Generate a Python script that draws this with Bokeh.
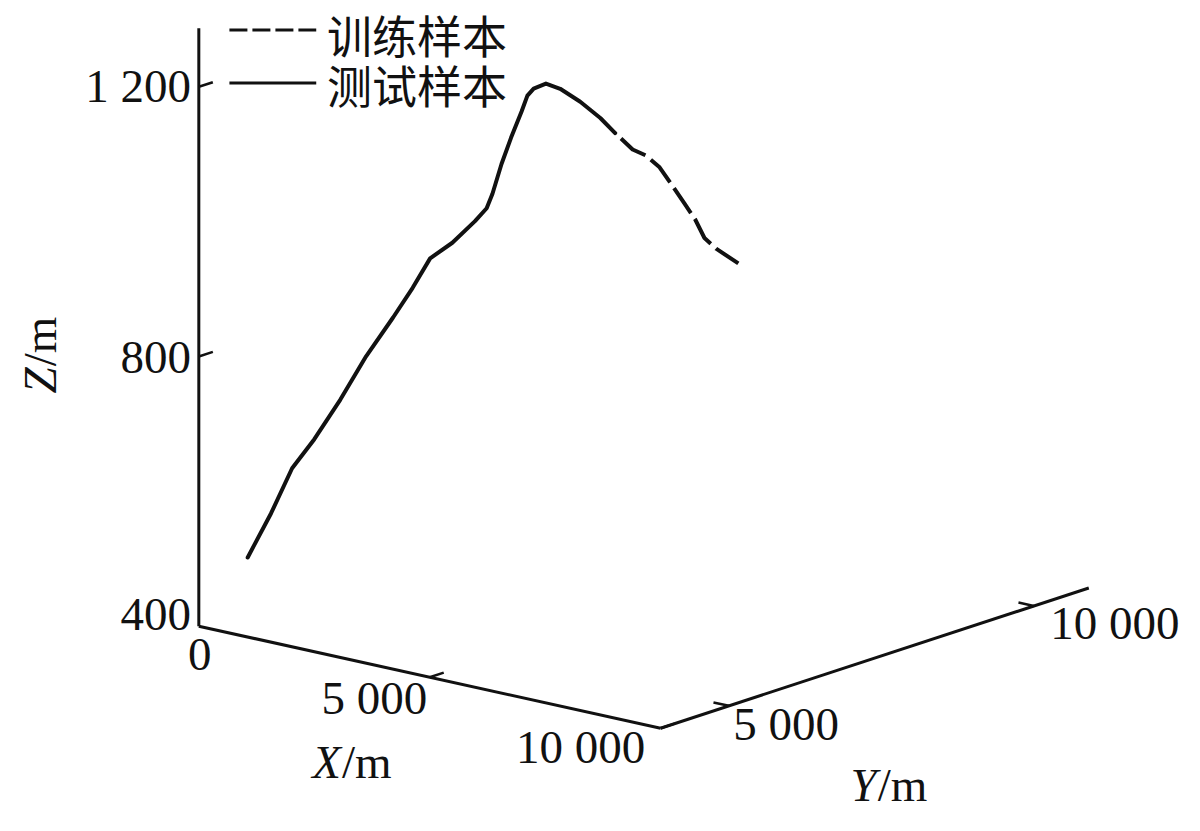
import math
from bokeh.plotting import figure
from bokeh.models import Range1d
from bokeh.core.properties import value
from bokeh.embed import file_html
from bokeh.resources import INLINE

# ---------------- data ----------------
# 测试样本 (solid)
test_x = [900, 1140, 1360, 1590, 1860, 2130, 2410, 2610, 2790, 3020, 3260, 3380,
          3440, 3530, 3630, 3740, 3800, 3870, 3990, 4140, 4350, 4560, 4710]
test_y = [4000, 4200, 4380, 4570, 4790, 5010, 5240, 5410, 5560, 5750, 5940, 6040,
          6090, 6170, 6250, 6340, 6390, 6440, 6550, 6670, 6840, 7010, 7140]
test_z = [512, 575, 640, 681, 737, 799, 854, 896, 938, 959, 989, 1007,
          1028, 1071, 1109, 1147, 1170, 1180, 1186, 1177, 1156, 1130, 1106]
# 训练样本 (dashed)
train_x = [4710, 4890, 5030, 5170, 5300, 5430, 5540, 5640, 5760, 5990]
train_y = [7140, 7290, 7400, 7520, 7620, 7730, 7820, 7900, 8000, 8190]
train_z = [1106, 1080, 1070, 1051, 1024, 995, 971, 942, 925, 901]

x_ticks = [0, 5000, 10000]
x_tick_labels = ["0", "5 000", "10 000"]
y_ticks = [5000, 10000]
y_tick_labels = ["5 000", "10 000"]
z_ticks = [400, 800, 1200]
z_tick_labels = ["400", "800", "1 200"]

x_lim = (0, 10000)
y_lim = (3880, 10900)
z_lim = (400, 1287)

legend_labels = ["训练样本", "测试样本"]

# ---------------- projection (orthographic 3-D view) ----------------
ORIGIN = (201.0, 638.0)
EX = (468.0, 104.0)     # screen vector of the full X range
EY = (434.0, -143.0)    # screen vector of the full Y range
EZ = (0.0, -275.0)      # screen vector of 400 m of Z


def proj(X, Y, Z):
    fx = (X - x_lim[0]) / (x_lim[1] - x_lim[0])
    fy = (Y - y_lim[0]) / (y_lim[1] - y_lim[0])
    fz = (Z - z_lim[0]) / 400.0
    sx = ORIGIN[0] + fx * EX[0] + fy * EY[0] + fz * EZ[0]
    sy = ORIGIN[1] + fx * EX[1] + fy * EY[1] + fz * EZ[1]
    return sx, sy


def proj_list(xs, ys, zs):
    pts = [proj(a, b, c) for a, b, c in zip(xs, ys, zs)]
    return [q[0] for q in pts], [q[1] for q in pts]


INK = "#111111"
SERIF = value("Liberation Serif")
CJK = value("Noto Sans CJK SC")

p = figure(width=1184, height=815, x_range=Range1d(0, 1200), y_range=Range1d(831, 0),
           output_backend="svg", toolbar_location=None, min_border=0,
           x_axis_type=None, y_axis_type=None)
p.grid.visible = False
p.outline_line_color = None
p.background_fill_color = "white"
p.border_fill_color = "white"

# ---- axes ----
ax_x = proj_list([x_lim[0], x_lim[1]], [y_lim[0]] * 2, [z_lim[0]] * 2)
ax_y = proj_list([x_lim[1]] * 2, [y_lim[0], y_lim[1]], [z_lim[0]] * 2)
ax_z = proj_list([x_lim[0]] * 2, [y_lim[0]] * 2, [z_lim[0], z_lim[1]])
for sx, sy in (ax_x, ax_y, ax_z):
    p.line(sx, sy, line_color=INK, line_width=3)

# ---- ticks ----
dy_tick = 230     # tick length along +Y (data units)
dx_tick = 334     # tick length along -X (data units)
x0s, y0s, x1s, y1s = [], [], [], []
for xt in x_ticks:
    if xt > x_lim[0]:
        a = proj(xt, y_lim[0], z_lim[0]); b = proj(xt, y_lim[0] + dy_tick, z_lim[0])
        x0s.append(a[0]); y0s.append(a[1]); x1s.append(b[0]); y1s.append(b[1])
for yt in y_ticks:
    a = proj(x_lim[1], yt, z_lim[0]); b = proj(x_lim[1] - dx_tick, yt, z_lim[0])
    x0s.append(a[0]); y0s.append(a[1]); x1s.append(b[0]); y1s.append(b[1])
for zt in z_ticks:
    if zt > z_lim[0]:
        a = proj(x_lim[0], y_lim[0], zt); b = proj(x_lim[0], y_lim[0] + dy_tick, zt)
        x0s.append(a[0]); y0s.append(a[1]); x1s.append(b[0]); y1s.append(b[1])
p.segment(x0s, y0s, x1s, y1s, line_color=INK, line_width=2.5)

# ---- tick labels ----
FS = "47px"
x_off = [(1, 29), (-56, 21), (-81, 19)]
pts = [proj(t, y_lim[0], z_lim[0]) for t in x_ticks]
p.text([q[0] + o[0] for q, o in zip(pts, x_off)], [q[1] + o[1] for q, o in zip(pts, x_off)],
       text=x_tick_labels, text_font=SERIF, text_font_size=FS, text_color=INK,
       text_align="center", text_baseline="middle")

y_off = [(58, 19), (82, 17)]
pts = [proj(x_lim[1], t, z_lim[0]) for t in y_ticks]
p.text([q[0] + o[0] for q, o in zip(pts, y_off)], [q[1] + o[1] for q, o in zip(pts, y_off)],
       text=y_tick_labels, text_font=SERIF, text_font_size=FS, text_color=INK,
       text_align="center", text_baseline="middle")

z_off = [(-8, -12), (-8, 1), (-8, -1)]
pts = [proj(x_lim[0], y_lim[0], t) for t in z_ticks]
p.text([q[0] + o[0] for q, o in zip(pts, z_off)], [q[1] + o[1] for q, o in zip(pts, z_off)],
       text=z_tick_labels, text_font=SERIF, text_font_size=FS, text_color=INK,
       text_align="right", text_baseline="middle")

# ---- axis titles ----
p.text([345], [776], text=["X"], text_font=SERIF, text_font_size=FS, text_font_style="italic",
       text_color=INK, text_align="right", text_baseline="middle")
p.text([346], [776], text=["/m"], text_font=SERIF, text_font_size=FS,
       text_color=INK, text_align="left", text_baseline="middle")
p.text([888], [800], text=["Y"], text_font=SERIF, text_font_size=FS, text_font_style="italic",
       text_color=INK, text_align="right", text_baseline="middle")
p.text([889], [800], text=["/m"], text_font=SERIF, text_font_size=FS,
       text_color=INK, text_align="left", text_baseline="middle")
p.text([40], [374], text=["Z"], text_font=SERIF, text_font_size=FS, text_font_style="italic",
       text_color=INK, text_align="right", text_baseline="middle", angle=math.pi / 2)
p.text([40], [373], text=["/m"], text_font=SERIF, text_font_size=FS,
       text_color=INK, text_align="left", text_baseline="middle", angle=math.pi / 2)

# ---- curves ----
tx, ty = proj_list(test_x, test_y, test_z)
p.line(tx, ty, line_color=INK, line_width=4, line_join="round", line_cap="round")
rx, ry = proj_list(train_x, train_y, train_z)
p.line(rx, ry, line_color=INK, line_width=4, line_dash="30 7", line_dash_offset=-8,
       line_join="round")

# ---- legend (manual, top-left) ----
p.line([232, 320], [30, 30], line_color=INK, line_width=3, line_dash="18 5")
p.line([232, 320], [84, 84], line_color=INK, line_width=3)
p.text([331, 331], [35, 86], text=legend_labels, text_font=CJK, text_font_size="45px",
       text_color=INK, text_align="left", text_baseline="middle")

open("out.html", "w").write(file_html(p, INLINE))
